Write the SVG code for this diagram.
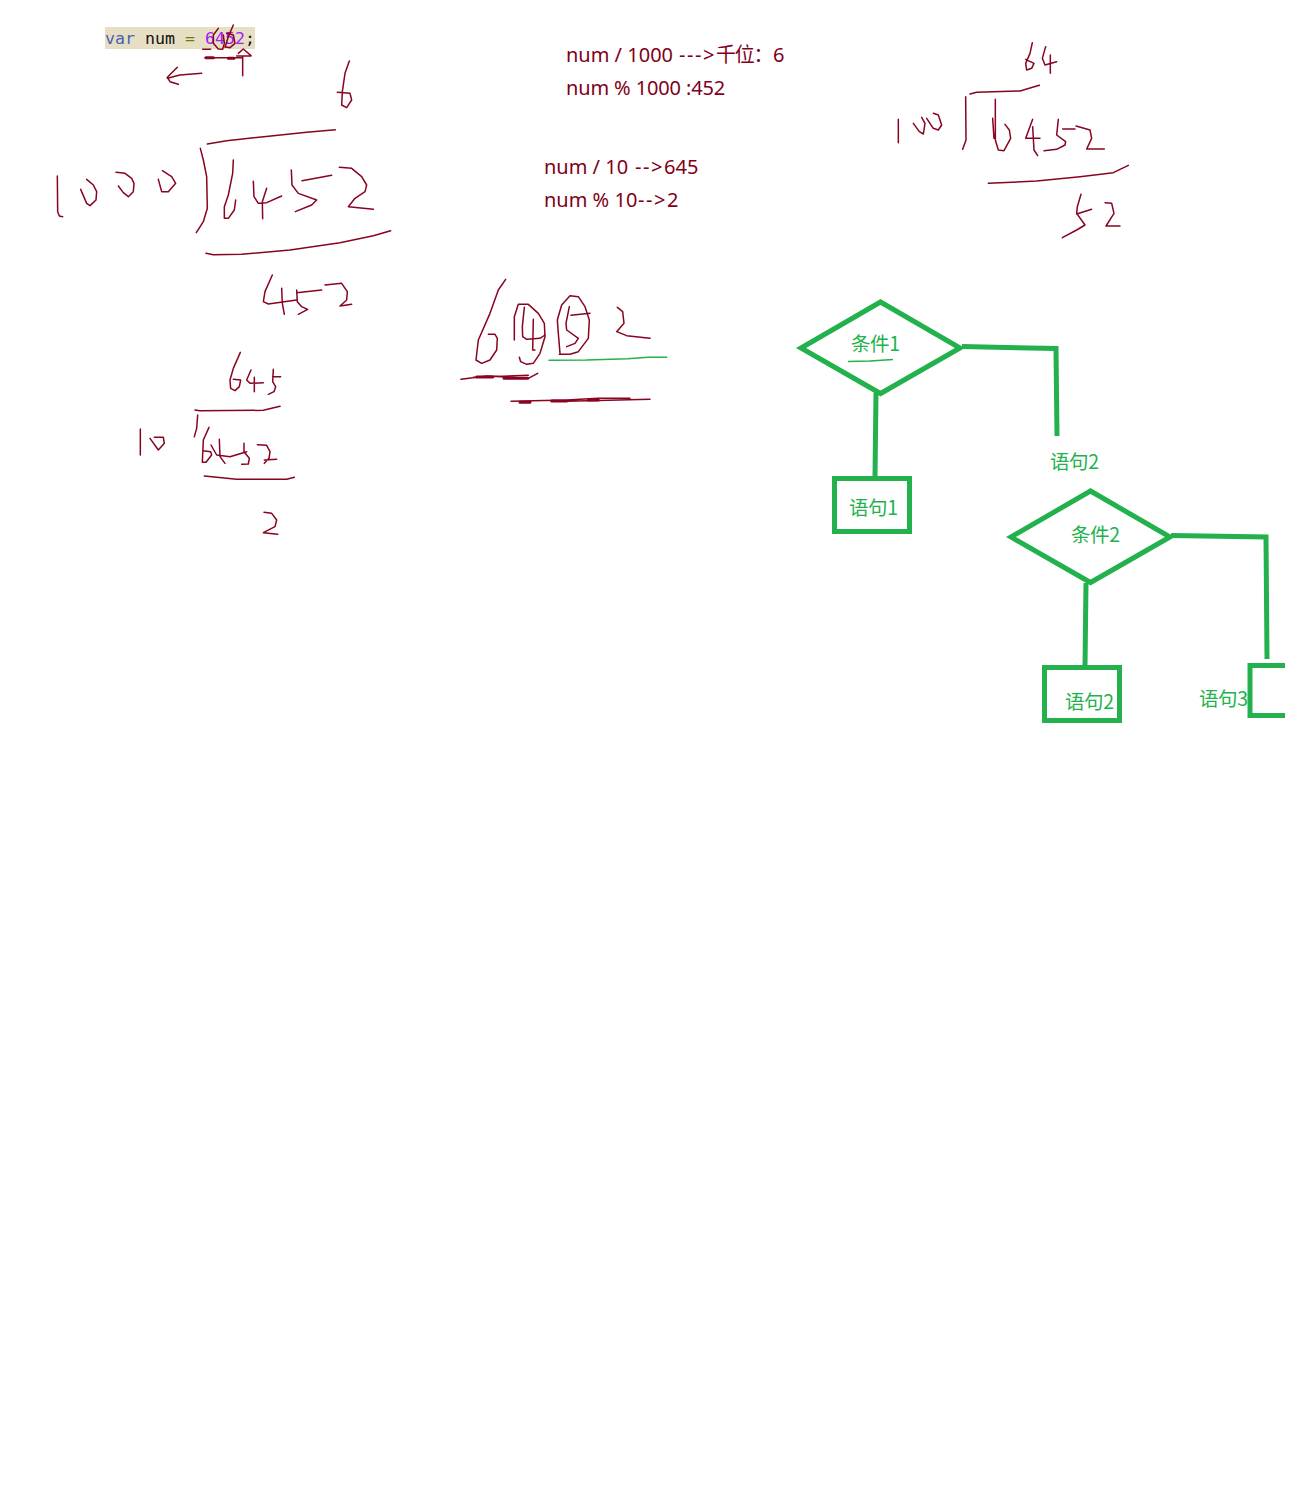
<svg xmlns="http://www.w3.org/2000/svg" width="1294" height="1499" viewBox="0 0 1294 1499">
<style>
.ink{fill:none;stroke:#880420;stroke-width:4.5;stroke-linejoin:round;stroke-linecap:round}
.fat{stroke-width:9}
.g{fill:none;stroke:#22b14c;stroke-width:5;stroke-linejoin:miter}
.note{font-family:"Noto Sans","Noto Sans CJK SC",sans-serif;font-size:20px;fill:#7f0019}
.lab{font-family:"Noto Sans CJK SC","Noto Sans",sans-serif;font-size:19.5px;letter-spacing:-.4px;fill:#22b14c}
.code{font-family:"DejaVu Sans Mono",monospace;font-size:16.6px}
</style>
<rect width="1294" height="1499" fill="#fff"/>
<g id="code">
<rect x="105" y="27" width="150" height="22" fill="#e7dfc3"/>
<text class="code" x="105" y="44" xml:space="preserve"><tspan fill="#4b5fb5">var</tspan><tspan fill="#111"> num </tspan><tspan fill="#6f7a10">=</tspan><tspan fill="#a020f0"> 6452</tspan><tspan fill="#111">;</tspan></text>
</g>
<g id="notes">
<text class="note" y="62"><tspan x="566">num / 1000</tspan><tspan x="679" letter-spacing="1.6">---&gt;</tspan><tspan x="716" letter-spacing="-1.2">千位：</tspan><tspan x="773">6</tspan></text>
<text class="note" x="566" y="95" letter-spacing="-.13">num % 1000 :452</text>
<text class="note" y="174"><tspan x="544">num / 10</tspan><tspan x="635" letter-spacing="1.6">--&gt;</tspan><tspan x="664">645</tspan></text>
<text class="note" y="207"><tspan x="544">num % 10</tspan><tspan x="638" letter-spacing="1.6">--&gt;</tspan><tspan x="667">2</tspan></text>
</g>
<g id="scribble-top" class="ink" transform="translate(90 10) scale(.33333)">
<path d="M385 55L370 75L370 100L385 117L398 118L403 100L400 75"/>
<path d="M430 45L415 80L405 112M410 70L430 75L435 100L420 113L405 110"/>
<path d="M338 118H362M345 143H455M458 140V197M440 138H483M445 130L460 117L483 137"/>
<path class="fat" d="M348 143H370M415 145H432"/>
<path d="M335 190L270 195L232 205M262 172L232 202L240 215L265 223"/>
<path d="M778 153L765 190L757 245L755 285L770 293L785 270L780 250L742 247"/>
</g>
<g id="division-1000" class="ink" transform="translate(40 120) scale(.33333)">
<path d="M502 72L560 62L700 47L800 37L886 29"/>
<path d="M481 85L490 120L500 170L502 265L490 305L469 338"/>
<path d="M52 168L53 275L58 288L68 290"/>
<path d="M140 178L160 195L170 215L168 240L150 257L140 250L122 208"/>
<path d="M228 157L255 160L275 175L282 190L280 215L265 230L250 218L235 198"/>
<path d="M367 152L395 170L407 190L385 215L365 215L355 178"/>
<path d="M580 120L578 160L565 225L553 260L553 295L565 295L583 270L587 240"/>
<path d="M640 184L642 230L655 250L680 248L725 228M680 205L667 245L668 296"/>
<path d="M754 150L756 195L775 220L830 240L815 255L766 275M786 182L875 166"/>
<path d="M898 142L935 145L965 170L980 195L975 215L945 235L925 260L1000 268"/>
<path d="M498 400L520 404L605 403L750 390L900 368L1000 347L1052 332"/>
<path d="M697 465L675 515L670 545L685 552L770 540M725 505L727 550L733 583"/>
<path d="M770 510L772 545L785 560L803 568L775 583M770 518L845 510"/>
<path d="M855 495L905 490L922 515L920 540L900 558L935 553"/>
</g>
<g id="division-10" class="ink" transform="translate(120 340) scale(.33333)">
<path d="M361 37L340 85L330 120L332 145L345 152L358 140L362 120L340 118"/>
<path d="M393 90L380 120L390 130L430 128M403 112V155"/>
<path d="M460 88L458 125L467 140L462 155L445 163M458 110H482"/>
<path d="M225 210L240 212L430 211L480 199M233 225L230 265L223 290"/>
<path d="M61 267V345M90 295L115 330L133 310L130 292L103 292"/>
<path d="M267 262L250 300L247 367L258 367L275 345L272 335L250 332"/>
<path d="M273 315L290 345L330 350L380 335M298 298L300 350L315 370"/>
<path d="M372 310V335L388 355L385 372L365 373"/>
<path d="M412 314L440 316L450 335L447 355L433 370M433 360L470 358"/>
<path d="M253 408L350 418H500L523 412"/>
<path d="M432 517L455 520L470 540L465 560L430 578L473 583"/>
</g>
<g id="digits" class="ink" transform="translate(450 270) scale(.33333)">
<path d="M167 28L145 60L120 130L85 210L78 270L95 280L120 270L140 240L142 205L135 193H115"/>
<path d="M193 210V140L205 103H235L265 130L283 160L285 200L270 250L250 280L230 283L212 275L208 262"/>
<path d="M223 112L217 170L218 200L230 208L270 205L285 195M250 148L248 240H255"/>
<path d="M330 250L325 190L322 150L335 105L360 77L385 80L405 110L418 150L415 205L385 245L360 253H328"/>
<path d="M358 110L348 160L350 180L385 205L375 220L350 230M363 136L420 130"/>
<path d="M502 112L518 125L522 160L500 185L530 197L600 205"/>
<path style="stroke:#22b14c" d="M297 271L410 270L533 266L595 262H650"/>
<path d="M33 328L110 318L235 325L263 310M70 322L235 316"/>
<path class="fat" d="M80 321H128M162 325H233M210 397H240M305 393H350M415 390H445"/>
<path d="M183 394L350 390L445 385H540M350 394L600 388"/>
</g>
<g id="division-100" class="ink" transform="translate(880 30) scale(.33333)">
<path d="M457 38L450 70L437 100L440 120L455 115L462 100L437 88"/>
<path d="M497 50L487 85L495 105L530 95M511 75V130"/>
<path d="M270 192L290 187L420 183L478 166M257 200L258 330L248 358"/>
<path d="M55 268V338M125 262L135 280L130 312L118 305L100 280M140 265L160 295L175 300L185 285L175 255L160 250"/>
<path d="M346 208V330L355 360L372 362L392 325L388 300L375 283M338 265L342 325"/>
<path d="M458 268L437 325H480M458 290L462 360L473 377"/>
<path d="M535 268L530 315L557 335L555 345L530 358L492 362M548 297H585"/>
<path d="M588 288L630 300L635 325L620 357H673"/>
<path d="M325 460L470 453L600 440L700 428L745 406"/>
<path d="M603 493L592 530L590 550L615 585L590 600L547 623M590 552L635 538"/>
<path d="M675 518L695 520L702 550L678 588H720"/>
</g>
<g id="connectors">
<path class="g" d="M962 346.500L1056 348.500L1057 436"/>
<path class="g" d="M876 393L875 477"/>
<path class="g" d="M1171 535.500L1266 537L1267 659"/>
<path class="g" d="M1086 583L1085 666"/>
</g>
<g id="cond1">
<path class="g" d="M880.500 302L801 348L880.500 393.500L960 348Z"/>
<path d="M848 361.500L870 361L893 359.500" fill="none" stroke="#22b14c" stroke-width="1.500"/>
<text class="lab" x="851" y="351">条件1</text>
</g>
<g id="stmt1">
<rect class="g" x="834.500" y="478.500" width="75" height="53"/>
<text class="lab" x="849" y="515">语句1</text>
</g>
<g id="stmt2-label"><text class="lab" x="1050" y="469">语句2</text></g>
<g id="cond2">
<path class="g" d="M1090.500 491L1011 537L1090.500 582.500L1170 537Z"/>
<text class="lab" x="1071" y="542">条件2</text>
</g>
<g id="stmt2">
<rect class="g" x="1044.500" y="667.500" width="75" height="53"/>
<text class="lab" x="1065" y="709">语句2</text>
</g>
<g id="stmt3">
<path class="g" d="M1285 665.500H1250V715.500H1285"/>
<text class="lab" x="1199" y="706">语句3</text>
</g>
</svg>
